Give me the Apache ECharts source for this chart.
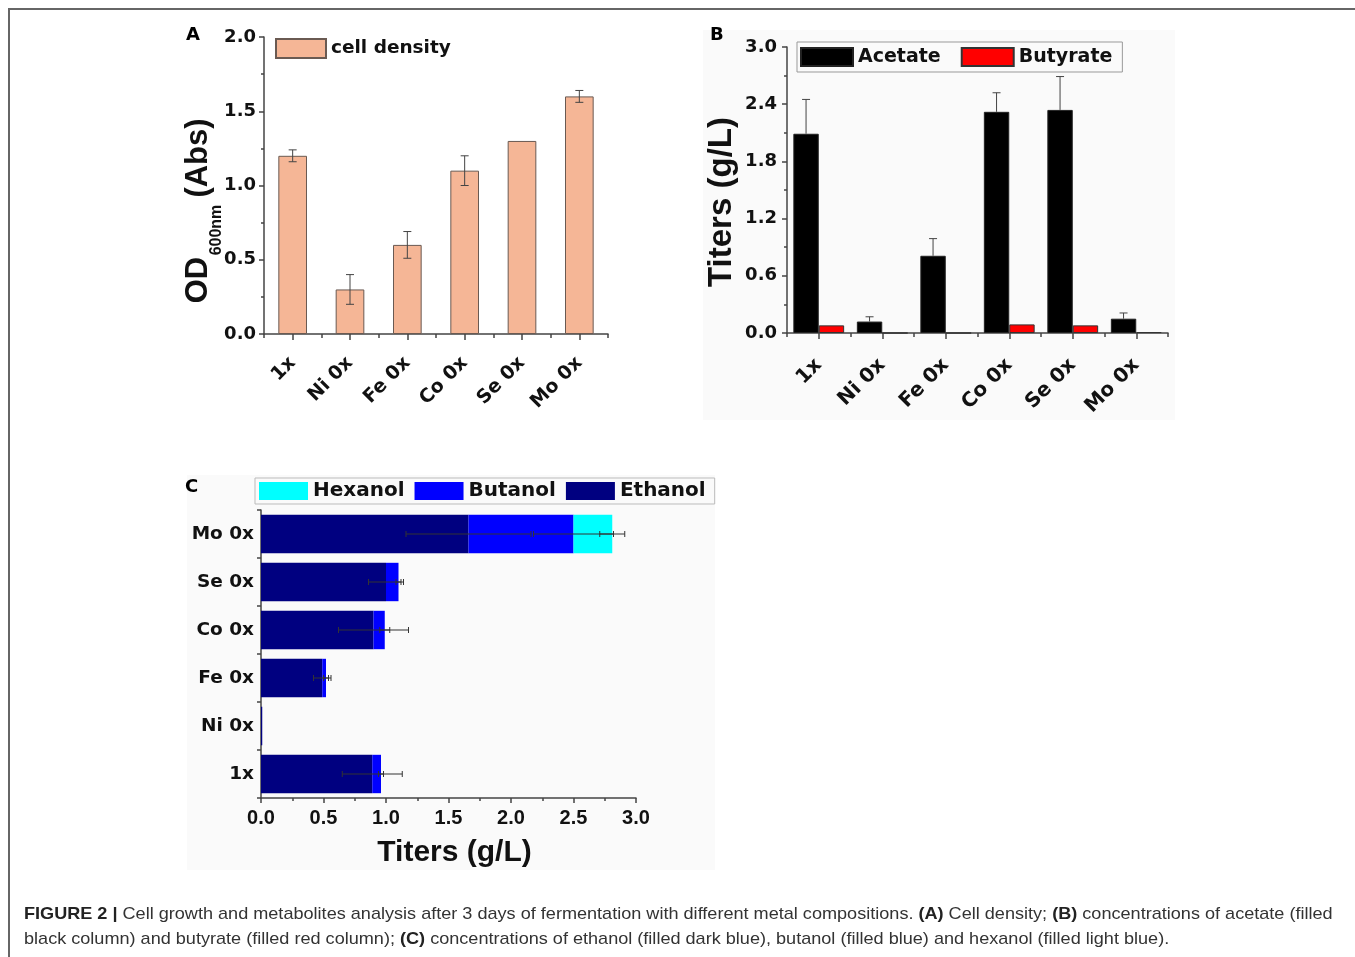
<!DOCTYPE html>
<html>
<head>
<meta charset="utf-8">
<script src="https://cdn.jsdelivr.net/npm/echarts@6/dist/echarts.min.js"></script>
<style>
  html, body { margin: 0; padding: 0; background: #fff; }
  #frame { position: absolute; left: 8px; top: 8px; width: 1347px; height: 949px;
           border-left: 2px solid #666; border-top: 2px solid #666; }
  #chart { position: absolute; left: 0; top: 0; width: 1355px; height: 957px; }
  #caption { position: absolute; left: 24px; top: 901px; font: 17px "Liberation Sans", Arial, sans-serif;
             line-height: 25px; color: #333; white-space: nowrap;
             transform: scaleX(1.064); transform-origin: 0 0; }
  #caption b { color: #222; }
</style>
</head>
<body>
<div id="frame"></div>
<div id="chart"></div>
<div id="caption"><b>FIGURE 2 |</b> Cell growth and metabolites analysis after 3 days of fermentation with different metal compositions. <b>(A)</b> Cell density; <b>(B)</b> concentrations of acetate (filled<br>black column) and butyrate (filled red column); <b>(C)</b> concentrations of ethanol (filled dark blue), butanol (filled blue) and hexanol (filled light blue).</div>
<script>
  // categories
  const cats = ['1x', 'Ni 0x', 'Fe 0x', 'Co 0x', 'Se 0x', 'Mo 0x']

  // A: cell density
  const cellDensity = [1.2, 0.3, 0.6, 1.1, 1.3, 1.6]
  const cellDensityErr = [0.04, 0.1, 0.09, 0.1, 0, 0.04]

  // B: acids
  const acetate = [2.09, 0.12, 0.81, 2.32, 2.34, 0.15]
  const acetateErr = [0.36, 0.05, 0.18, 0.2, 0.35, 0.06]
  const butyrate = [0.08, 0, 0, 0.09, 0.08, 0.01]

  // C: alcohols (stacked)
  const ethanol = [0.89, 0.01, 0.49, 0.90, 1.00, 1.66]
  const ethanolErr = [0.24, 0, 0.07, 0.28, 0.14, 0.5]
  const butanol = [0.07, 0, 0.03, 0.09, 0.10, 0.84]
  const butanolErr = [0.02, 0, 0.02, 0.04, 0.02, 0.32]
  const hexanol = [0, 0, 0, 0, 0, 0.31]
  const hexanolErr = [0, 0, 0, 0, 0, 0.1]

  const FL = '"Liberation Sans", Arial, sans-serif'
  const FD = '"DejaVu Sans", sans-serif'
  const AX = '#444'

  function vErr (offsetFrac, oneSided) {
    return function (params, api) {
      const e = api.value(2)
      if (!e) return null
      const v = api.value(1)
      const off = api.size([1, 0])[0] * offsetFrac
      const top = api.coord([api.value(0), v + e])
      const bot = api.coord([api.value(0), oneSided ? v : v - e])
      const x = top[0] + off
      const style = { stroke: '#444', lineWidth: 1 }
      const kids = [
        { type: 'line', shape: { x1: x, y1: top[1], x2: x, y2: bot[1] }, style },
        { type: 'line', shape: { x1: x - 4, y1: top[1], x2: x + 4, y2: top[1] }, style }
      ]
      if (!oneSided) kids.push({ type: 'line', shape: { x1: x - 4, y1: bot[1], x2: x + 4, y2: bot[1] }, style })
      return { type: 'group', children: kids }
    }
  }

  function hErr (params, api) {
    const e = api.value(2)
    if (!e) return null
    const p = api.value(0)
    const l = api.coord([p - e, api.value(1)])
    const r = api.coord([p + e, api.value(1)])
    const style = { stroke: '#333', lineWidth: 1 }
    return {
      type: 'group',
      children: [
        { type: 'line', shape: { x1: l[0], y1: l[1], x2: r[0], y2: r[1] }, style },
        { type: 'line', shape: { x1: l[0], y1: l[1] - 3, x2: l[0], y2: l[1] + 3 }, style },
        { type: 'line', shape: { x1: r[0], y1: r[1] - 3, x2: r[0], y2: r[1] + 3 }, style }
      ]
    }
  }

  const cumBut = ethanol.map((v, i) => v + butanol[i])
  const cumHex = cumBut.map((v, i) => v + hexanol[i])
  const errC = []
  cats.forEach((c, i) => {
    errC.push([ethanol[i], i, ethanolErr[i]])
    errC.push([cumBut[i], i, butanolErr[i]])
    errC.push([cumHex[i], i, hexanolErr[i]])
  })

  const line = { show: true, lineStyle: { color: AX, width: 1.5 } }
  const tick = (len, align) => ({ show: true, length: len, alignWithLabel: !!align, lineStyle: { color: AX, width: 1.5 } })
  const minor = { show: true, splitNumber: 2, length: 3, lineStyle: { color: AX, width: 1.5 } }
  const lab = (size, fam) => ({ color: '#111', fontWeight: 'bold', fontFamily: fam || FD, fontSize: size })
  const fmt = v => v.toFixed(1)

  const chart = echarts.init(document.getElementById('chart'))
  chart.setOption({
    animation: false,
    grid: [
      { left: 264, top: 37, width: 344, height: 297 },
      { left: 787, top: 47, width: 381, height: 286 },
      { left: 261, top: 510, width: 375, height: 288 }
    ],
    xAxis: [
      {
        gridIndex: 0, type: 'category', data: cats, axisLine: line, axisTick: tick(6, true),
        axisLabel: Object.assign(lab(19), { rotate: 45, margin: 26 })
      },
      {
        gridIndex: 0, type: 'category', data: cats, position: 'bottom',
        axisLine: { show: false }, axisLabel: { show: false }, axisTick: tick(4)
      },
      {
        gridIndex: 1, type: 'category', data: cats, axisLine: line, axisTick: tick(6, true),
        axisLabel: Object.assign(lab(20), { rotate: 45, margin: 29 })
      },
      {
        gridIndex: 1, type: 'category', data: cats, position: 'bottom',
        axisLine: { show: false }, axisLabel: { show: false }, axisTick: tick(4)
      },
      {
        gridIndex: 2, type: 'value', min: 0, max: 3, interval: 0.5,
        axisLine: line, axisTick: tick(5), minorTick: minor, splitLine: { show: false },
        axisLabel: Object.assign(lab(20, FL), { margin: 10, formatter: fmt }),
        name: 'Titers (g/L)', nameLocation: 'middle', nameGap: 36,
        nameTextStyle: Object.assign(lab(30, FL), { padding: [4, 0, 0, 12] })
      }
    ],
    yAxis: [
      {
        gridIndex: 0, type: 'value', min: 0, max: 2, interval: 0.5,
        axisLine: line, axisTick: tick(5), minorTick: minor, splitLine: { show: false },
        axisLabel: Object.assign(lab(18), { margin: 8, formatter: fmt })
      },
      {
        gridIndex: 1, type: 'value', min: 0, max: 3, interval: 0.6,
        axisLine: line, axisTick: tick(5), minorTick: minor, splitLine: { show: false },
        axisLabel: Object.assign(lab(18), { margin: 10, formatter: fmt })
      },
      {
        gridIndex: 2, type: 'category', data: cats, axisLine: line, axisTick: tick(4),
        axisLabel: Object.assign(lab(18.5), { margin: 7 })
      }
    ],
    legend: [
      {
        data: ['cell density'], left: 275, top: 38, padding: 0, icon: 'rect',
        itemWidth: 50, itemHeight: 19, textStyle: lab(18.5)
      },
      {
        data: ['Acetate', 'Butyrate'], left: 797, top: 42, padding: [5, 10, 5, 3], icon: 'rect',
        itemWidth: 52, itemHeight: 18, itemGap: 20, textStyle: lab(19),
        borderColor: '#999', borderWidth: 1
      },
      {
        data: ['Hexanol', 'Butanol', 'Ethanol'], left: 255, top: 478, padding: [3, 9, 3, 4], icon: 'rect',
        itemWidth: 49, itemHeight: 18, itemGap: 10, textStyle: lab(20),
        borderColor: '#bbb', borderWidth: 1
      }
    ],
    graphic: [
      { type: 'rect', left: 703, top: 30, z: -10, shape: { width: 472, height: 390 }, style: { fill: '#fafafa' } },
      { type: 'rect', left: 187, top: 475, z: -10, shape: { width: 528, height: 395 }, style: { fill: '#fafafa' } },
      { type: 'text', left: 186, top: 26, style: { text: 'A', font: 'bold 18px ' + FD, fill: '#000' } },
      { type: 'text', left: 710, top: 26, style: { text: 'B', font: 'bold 18px ' + FD, fill: '#000' } },
      { type: 'text', left: 185, top: 478, style: { text: 'C', font: 'bold 18px ' + FD, fill: '#000' } },
      {
        type: 'text', x: 198, y: 280, rotation: Math.PI / 2,
        style: { text: 'OD', font: 'bold 31px ' + FL, fill: '#111', align: 'center', verticalAlign: 'middle' }
      },
      {
        type: 'text', x: 217, y: 230, rotation: Math.PI / 2,
        style: { text: '600nm', font: 'bold 16px ' + FL, fill: '#111', align: 'center', verticalAlign: 'middle' }
      },
      {
        type: 'text', x: 198, y: 158, rotation: Math.PI / 2,
        style: { text: '(Abs)', font: 'bold 31px ' + FL, fill: '#111', align: 'center', verticalAlign: 'middle' }
      },
      {
        type: 'text', x: 722, y: 202, rotation: Math.PI / 2,
        style: { text: 'Titers (g/L)', font: 'bold 33px ' + FL, fill: '#111', align: 'center', verticalAlign: 'middle' }
      }
    ],
    series: [
      {
        name: 'cell density', type: 'bar', xAxisIndex: 0, yAxisIndex: 0, barWidth: '50%',
        data: cellDensity,
        itemStyle: { color: '#F5B696', borderColor: '#6a5a52', borderWidth: 1 }
      },
      {
        type: 'custom', xAxisIndex: 0, yAxisIndex: 0, z: 10,
        data: cats.map((c, i) => [i, cellDensity[i], cellDensityErr[i]]),
        renderItem: vErr(0, false)
      },
      {
        name: 'Acetate', type: 'bar', xAxisIndex: 2, yAxisIndex: 1, barWidth: '40%', barGap: '0%',
        data: acetate, itemStyle: { color: '#000', borderColor: '#222', borderWidth: 1 }
      },
      {
        name: 'Butyrate', type: 'bar', xAxisIndex: 2, yAxisIndex: 1, barWidth: '40%', barGap: '0%',
        data: butyrate, itemStyle: { color: '#ff0000', borderColor: '#333', borderWidth: 1 }
      },
      {
        type: 'custom', xAxisIndex: 2, yAxisIndex: 1, z: 10,
        data: cats.map((c, i) => [i, acetate[i], acetateErr[i]]),
        renderItem: vErr(-0.2, true)
      },
      {
        name: 'Ethanol', type: 'bar', xAxisIndex: 4, yAxisIndex: 2, stack: 'alc', barWidth: '80%',
        data: ethanol, itemStyle: { color: '#000080' }
      },
      {
        name: 'Butanol', type: 'bar', xAxisIndex: 4, yAxisIndex: 2, stack: 'alc', barWidth: '80%',
        data: butanol, itemStyle: { color: '#0000ff' }
      },
      {
        name: 'Hexanol', type: 'bar', xAxisIndex: 4, yAxisIndex: 2, stack: 'alc', barWidth: '80%',
        data: hexanol, itemStyle: { color: '#00ffff' }
      },
      {
        type: 'custom', xAxisIndex: 4, yAxisIndex: 2, z: 10,
        data: errC, renderItem: hErr
      }
    ]
  })
</script>
</body>
</html>
